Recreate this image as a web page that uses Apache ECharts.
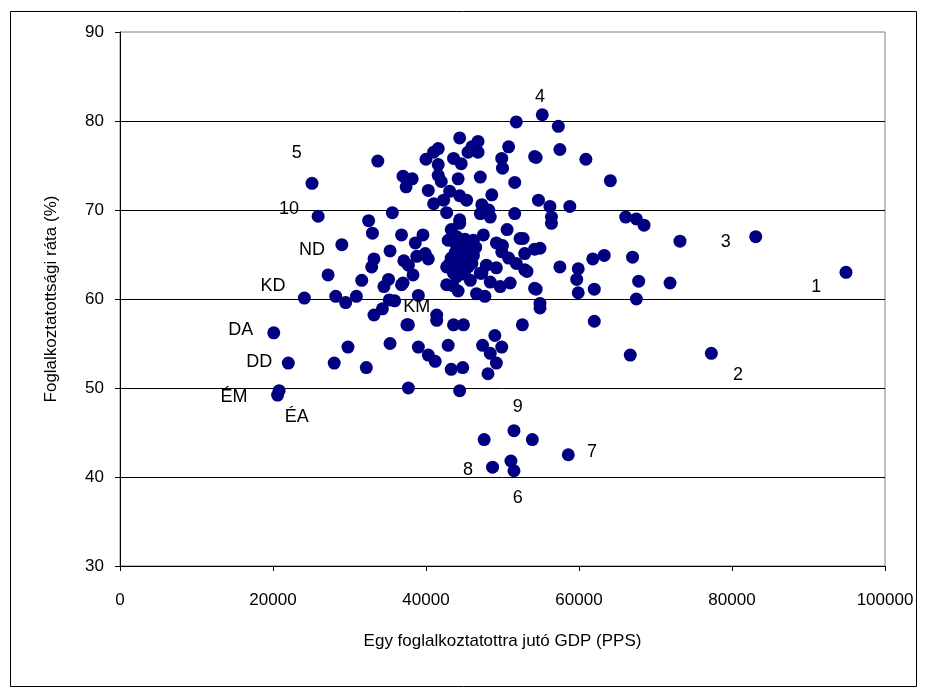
<!DOCTYPE html>
<html>
<head>
<meta charset="utf-8">
<script src="https://cdn.jsdelivr.net/npm/echarts@6/dist/echarts.min.js"></script>
<style>
html,body{margin:0;padding:0;background:#fff;}
#chart{width:928px;height:697px;}
</style>
</head>
<body>
<div id="chart"></div>
<script>
// GDP per employed person (PPS)
const gdp = [
25100,25900,33700,32500,33000,29000,33200,32900,27200,31600,35100,34500,35600,35300,24100,28200,29500,30900,35200,35900,34300,33200,20100,22000,20600,20800,29800,28000,32200,35300,36800,
37000,38200,37400,40300,43100,44400,45300,41000,42300,41600,41000,40000,41600,43600,44600,41600,42000,44200,44400,46800,46000,45500,46800,42700,44400,36800,39600,38600,43300,43800,45100,39900,37500,38800,37100,
47100,48600,47300,48200,51600,54700,47100,48400,47500,50600,49200,52300,49900,52900,54200,54900,50800,51800,49900,50000,54200,51600,55200,57300,57500,60900,64100,56200,58800,56400,56400,66100,67500,68500,52700,50000,
44400,44000,42900,44900,46200,44200,45500,46200,43300,44600,46000,42700,44000,45500,47100,44000,45800,47900,45300,43100,43600,44900,44800,45300,43800,46500,45000,43500,
37700,40300,38300,37000,39000,42700,44200,46600,47700,47300,49200,48400,49700,51000,50800,51800,52900,54200,54900,54900,41400,41400,37700,43600,44900,52600,39000,40300,41200,42900,43300,44800,47400,49000,48400,49900,49200,48100,37700,44400,
53200,57500,59900,59700,61800,63300,67000,54400,59900,62000,67800,67500,62000,73200,83100,94900,71900,66700,77300,54400,
47600,51500,53900,58600,48700,51100,51500
];
// Employment rate (%)
const rate = [
73.0,69.3,75.5,68.8,67.4,66.1,64.5,63.6,62.7,62.1,62.2,61.4,69.7,65.4,60.1,60.3,59.6,60.3,59.9,59.8,58.9,58.2,56.2,52.8,49.2,49.7,54.6,52.8,52.3,55.0,61.6,
73.8,73.5,72.6,72.2,72.1,71.6,71.1,70.7,71.1,76.9,76.5,75.7,75.1,75.8,75.2,73.9,73.2,73.5,78.1,77.7,77.1,76.5,76.5,69.7,68.9,67.2,67.2,66.3,67.8,66.3,66.7,65.1,57.1,64.8,64.3,
73.7,71.7,70.6,70.0,69.6,71.1,69.6,69.2,67.2,67.8,66.3,66.8,65.3,65.1,65.6,65.7,77.1,79.9,75.8,74.7,76.0,73.1,80.7,79.4,76.8,75.7,73.3,70.4,70.4,69.2,68.5,69.2,69.0,68.3,66.8,66.0,
68.5,67.0,66.6,66.6,66.6,65.5,65.5,64.9,64.6,64.4,64.0,63.6,63.3,63.6,62.9,62.5,62.1,63.8,64.6,64.0,62.9,63.5,65.8,66.2,65.2,65.8,62.8,61.5,
63.8,64.5,62.7,61.8,60.4,61.6,60.9,60.6,60.3,62.9,63.5,61.9,61.4,61.8,64.6,64.0,63.3,61.2,59.5,59.0,58.2,57.6,57.1,57.1,57.1,57.1,54.6,53.7,53.0,54.8,52.1,52.3,54.8,55.9,53.9,54.6,52.8,51.6,50.0,49.7,
63.1,63.6,63.4,62.2,64.5,64.9,64.7,61.1,60.7,61.1,62.0,60.0,57.5,66.5,67.0,63.0,61.8,53.7,53.9,75.9,
44.2,45.2,44.2,42.5,41.1,41.8,40.7
];
// Point annotations
const labelNames = ['5','10','ND','KD','DA','DD','ÉM','ÉA','KM','4','3','1','2','9','7','8','6'];
const labelX = [23100,22100,25100,20000,15800,18200,14900,23100,38800,54900,79200,91000,80800,52000,61700,45500,52000];
const labelY = [76.4,70.1,65.5,61.5,56.5,52.9,49.0,46.7,59.1,82.7,66.4,61.3,51.5,47.9,42.8,40.8,37.6];

const xTicks = {min:0, max:100000, interval:20000};
const yTicks = {min:30, max:90, interval:10};

const points = gdp.map((g,i)=>[g, rate[i]]);
const labelData = labelNames.map((n,i)=>({name:n, value:[labelX[i], labelY[i]]}));

const font = 'Liberation Sans, Arial, sans-serif';
const chart = echarts.init(document.getElementById('chart'), null, {renderer:'canvas'});
chart.setOption({
  backgroundColor:'#fff',
  animation:false,
  graphic:[{type:'rect', shape:{x:10.5,y:11.5,width:906,height:675}, style:{fill:'none', stroke:'#000', lineWidth:1}, z:-1}],
  grid:{left:120, top:32, right:43, bottom:131, show:true, borderColor:'#808080', borderWidth:1, backgroundColor:'transparent'},
  xAxis:{
    type:'value', min:xTicks.min, max:xTicks.max, interval:xTicks.interval,
    name:'Egy foglalkoztatottra jutó GDP (PPS)', nameLocation:'middle', nameGap:67,
    nameTextStyle:{color:'#000', fontSize:17, fontFamily:font},
    axisLine:{lineStyle:{color:'#000', width:1}},
    axisTick:{show:true, inside:false, length:5, lineStyle:{color:'#000'}},
    axisLabel:{color:'#000', fontSize:17, fontFamily:font, margin:26, formatter:v=>String(v)},
    splitLine:{show:false}
  },
  yAxis:{
    type:'value', min:yTicks.min, max:yTicks.max, interval:yTicks.interval,
    name:'Foglalkoztatottsági ráta (%)', nameLocation:'middle', nameGap:60,
    nameTextStyle:{color:'#000', fontSize:17, fontFamily:font},
    axisLine:{show:true, lineStyle:{color:'#000', width:1}},
    axisTick:{show:true, inside:false, length:5, lineStyle:{color:'#000'}},
    axisLabel:{color:'#000', fontSize:17, fontFamily:font, margin:16},
    splitLine:{show:true, showMaxLine:false, lineStyle:{color:'#000', width:1}}
  },
  series:[
    {type:'scatter', data:points, symbol:'circle', symbolSize:13,
     itemStyle:{color:'#000080', opacity:1}, z:3},
    {type:'scatter', data:labelData, symbolSize:0, silent:true,
     itemStyle:{color:'#000', opacity:1},
     label:{show:true, formatter:'{b}', position:'inside', color:'#000', opacity:1, textBorderWidth:0, textBorderColor:'transparent', fontSize:18, fontFamily:font}, z:4}
  ]
});
</script>
</body>
</html>
